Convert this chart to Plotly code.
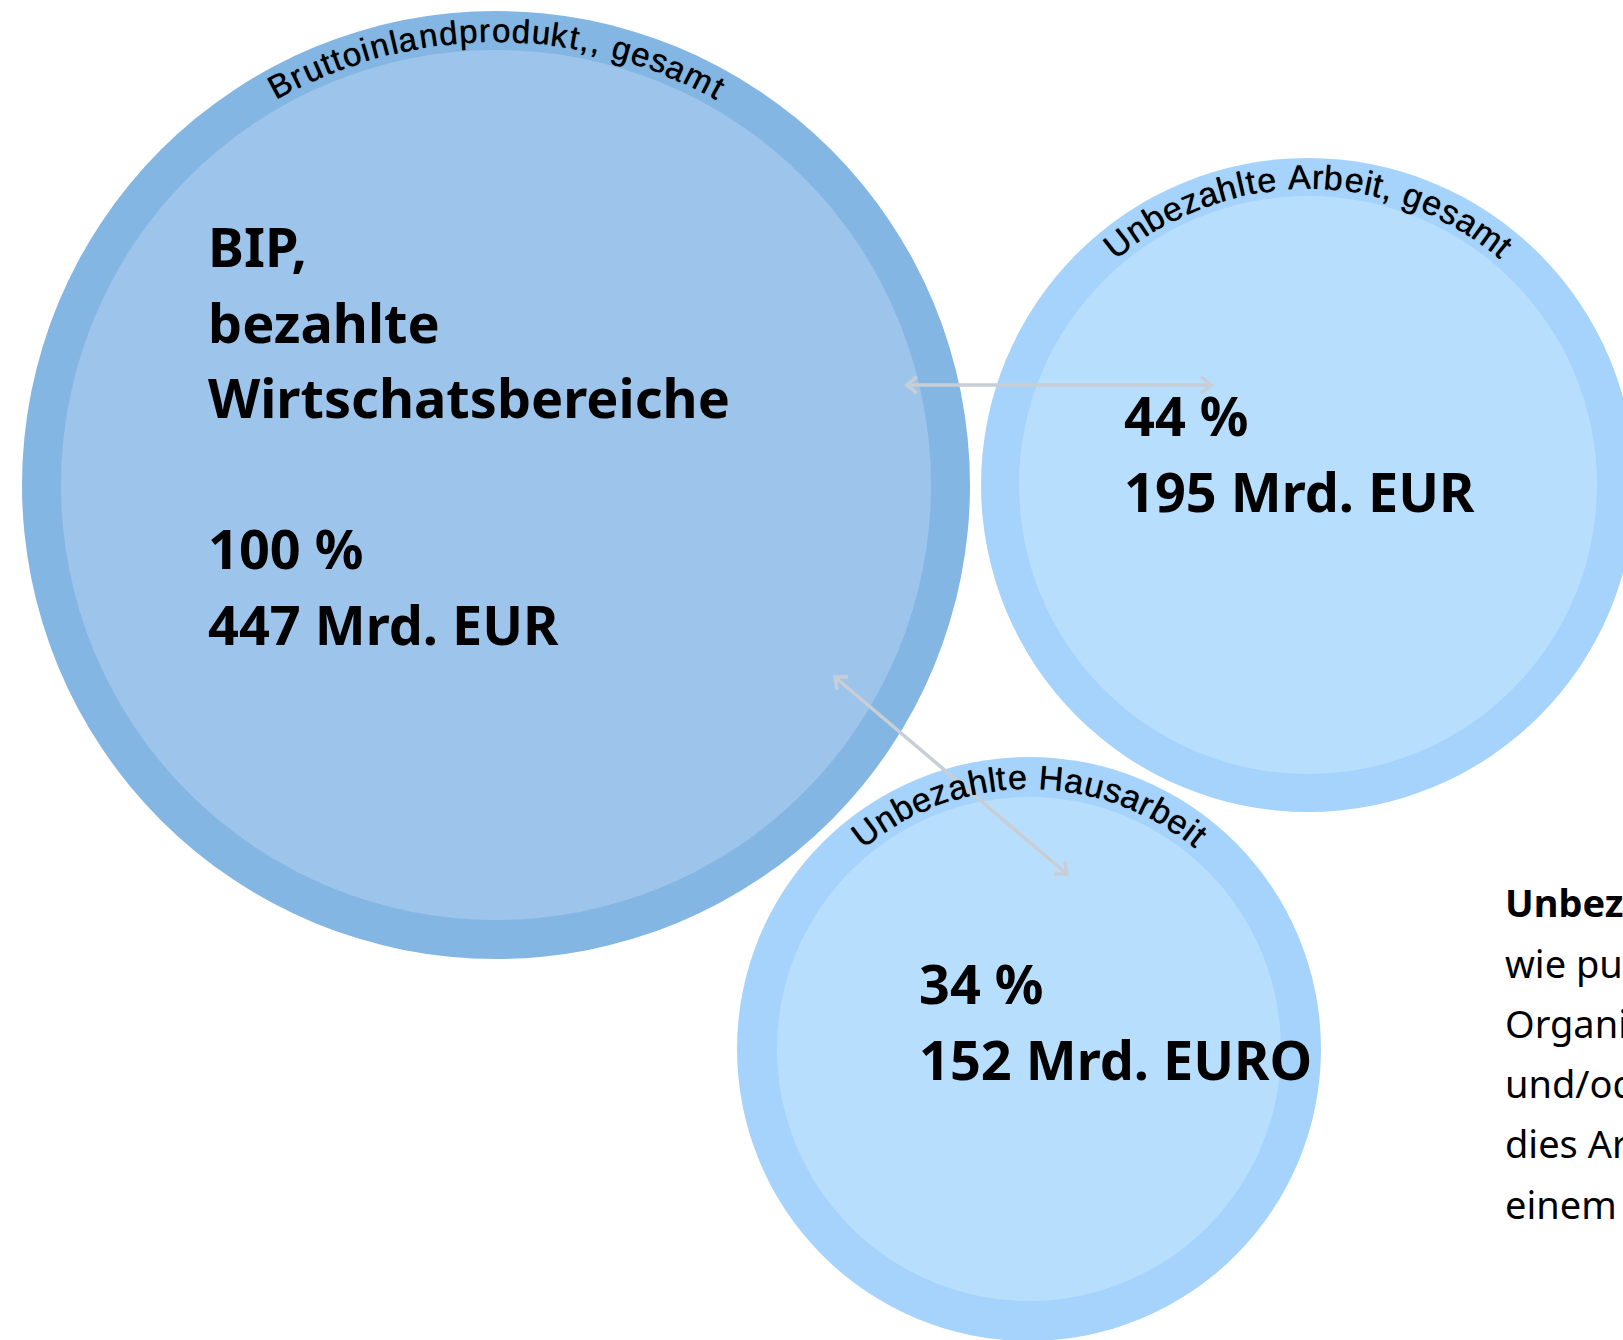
import math
import plotly.graph_objects as go

# ---------------- data ----------------
circle_labels = ["Bruttoinlandprodukt,, gesamt", "Unbezahlte Arbeit, gesamt", "Unbezahlte Hausarbeit"]
percent_values = [100, 44, 34]
amount_values = [447, 195, 152]
amount_units = ["Mrd. EUR", "Mrd. EUR", "Mrd. EURO"]
bip_heading_lines = ["BIP,", "bezahlte", "Wirtschatsbereiche"]
note_title = "Unbezahlte Arbeit"
note_lines = [
    "wie putzen, kochen, einkaufen,",
    "Organisieren, Kinderbetreuung",
    "und/oder Pflege. Würde man",
    "dies Arbeit bezahlen, entspräche",
    "einem Wert von 195 Mrd. EUR.",
]

# ---------------- layout / style ----------------
W, H = 1623, 1340
centers = [(496, 485), (1308, 485), (1029, 1049)]
outer_radius = [474, 327, 292]
inner_radius = [435, 289, 252]
outer_colors = ["rgb(132,182,228)", "rgb(166,211,252)", "rgb(166,211,252)"]
inner_colors = ["rgb(157,196,234)", "rgb(184,222,253)", "rgb(184,222,253)"]
arc_half_angle = [29.7, 40.4, 39.6]
arc_font_size = [33, 34, 34]
arrow_color = "rgb(200,206,213)"

text_font = "Noto Sans"
big_fs = 54
line_step = 75.5
text_x = [206, 1122, 917]
first_baseline = [267, 436, 1004]
note_x = 1503
note_fs = 38
note_first_baseline = 917
note_step = 60.3

ARIAL = {' ': 278, ',': 278, 'A': 667, 'B': 667, 'H': 722, 'U': 722, 'a': 556, 'b': 556,
         'd': 556, 'e': 556, 'g': 556, 'h': 556, 'i': 222, 'k': 500, 'l': 222, 'm': 833,
         'n': 556, 'o': 556, 'p': 556, 'r': 333, 's': 500, 't': 278, 'u': 556, 'z': 500}

fig = go.Figure()
shapes = []
annotations = []

# circles
for (cx, cy), ro, ri, co, ci in zip(centers, outer_radius, inner_radius, outer_colors, inner_colors):
    shapes.append(dict(type="circle", xref="x", yref="y", x0=cx - ro, x1=cx + ro, y0=cy - ro, y1=cy + ro,
                       fillcolor=co, line=dict(width=0), layer="below"))
    shapes.append(dict(type="circle", xref="x", yref="y", x0=cx - ri, x1=cx + ri, y0=cy - ri, y1=cy + ri,
                       fillcolor=ci, line=dict(width=0), layer="below"))

# curved labels
for label, (cx, cy), ro, ri, half, fs in zip(circle_labels, centers, outer_radius, inner_radius,
                                               arc_half_angle, arc_font_size):
    R = (ro + ri) / 2
    widths = [ARIAL.get(c, 556) / 1000 * fs for c in label]
    L = R * math.radians(2 * half)
    gap = (L - sum(widths)) / (len(label) - 1)
    s = -L / 2
    for c, w in zip(label, widths):
        mid = s + w / 2
        s += w + gap
        if c == ' ':
            continue
        th = mid / R
        x = cx + R * math.sin(th)
        y = cy - R * math.cos(th)
        annotations.append(dict(x=x, y=y, xref="x", yref="y", text=c, showarrow=False,
                                textangle=math.degrees(th), xanchor="center", yanchor="middle",
                                font=dict(family="Liberation Sans", size=fs, color="#000000",
                                          shadow="0 0 0.8px #000000")))


def add_line(txt, x, baseline, fs, weight=700):
    annotations.append(dict(x=x, y=baseline - 0.388 * fs, xref="x", yref="y", text=txt,
                            showarrow=False, xanchor="left", yanchor="middle", align="left",
                            font=dict(family=text_font, size=fs, color="#000000", weight=weight)))


# big circle text
lines0 = bip_heading_lines + ["", f"{percent_values[0]} %", f"{amount_values[0]} {amount_units[0]}"]
for i, t in enumerate(lines0):
    if t:
        add_line(t, text_x[0], first_baseline[0] + i * line_step, big_fs)
for k in (1, 2):
    add_line(f"{percent_values[k]} %", text_x[k], first_baseline[k], big_fs)
    add_line(f"{amount_values[k]} {amount_units[k]}", text_x[k], first_baseline[k] + line_step, big_fs)

# note paragraph (runs off the right edge, as in the original)
add_line(f"<b>{note_title}</b> umfasst Tätigkeiten", note_x, note_first_baseline, note_fs, 400)
for i, t in enumerate(note_lines):
    add_line(t, note_x, note_first_baseline + (i + 1) * note_step, note_fs, 400)

# double-headed arrows between circles
arrow_ends = [((907, 385), (1211, 385)), ((835, 677), (1067, 874))]
for (x0, y0), (x1, y1) in arrow_ends:
    shapes.append(dict(type="line", xref="x", yref="y", x0=x0, y0=y0, x1=x1, y1=y1,
                       line=dict(color=arrow_color, width=3.5)))
    d = math.atan2(y1 - y0, x1 - x0)
    for (tx, ty), dd in (((x1, y1), d), ((x0, y0), d + math.pi)):
        a1 = dd + math.pi - math.radians(40)
        a2 = dd + math.pi + math.radians(40)
        hl = 13
        p = (f"M {tx + hl * math.cos(a1)} {ty + hl * math.sin(a1)} L {tx} {ty} "
             f"L {tx + hl * math.cos(a2)} {ty + hl * math.sin(a2)}")
        shapes.append(dict(type="path", xref="x", yref="y", path=p,
                           line=dict(color=arrow_color, width=3.5)))

fig.update_layout(
    width=W, height=H, margin=dict(l=0, r=0, t=0, b=0),
    paper_bgcolor="white", plot_bgcolor="white",
    xaxis=dict(range=[0, W], visible=False, fixedrange=True),
    yaxis=dict(range=[H, 0], visible=False, fixedrange=True),
    shapes=shapes, annotations=annotations, showlegend=False,
)

fig.write_html("out.html", config={"displayModeBar": False},
               post_script="document.body.style.margin='0';document.body.style.overflow='hidden';")
